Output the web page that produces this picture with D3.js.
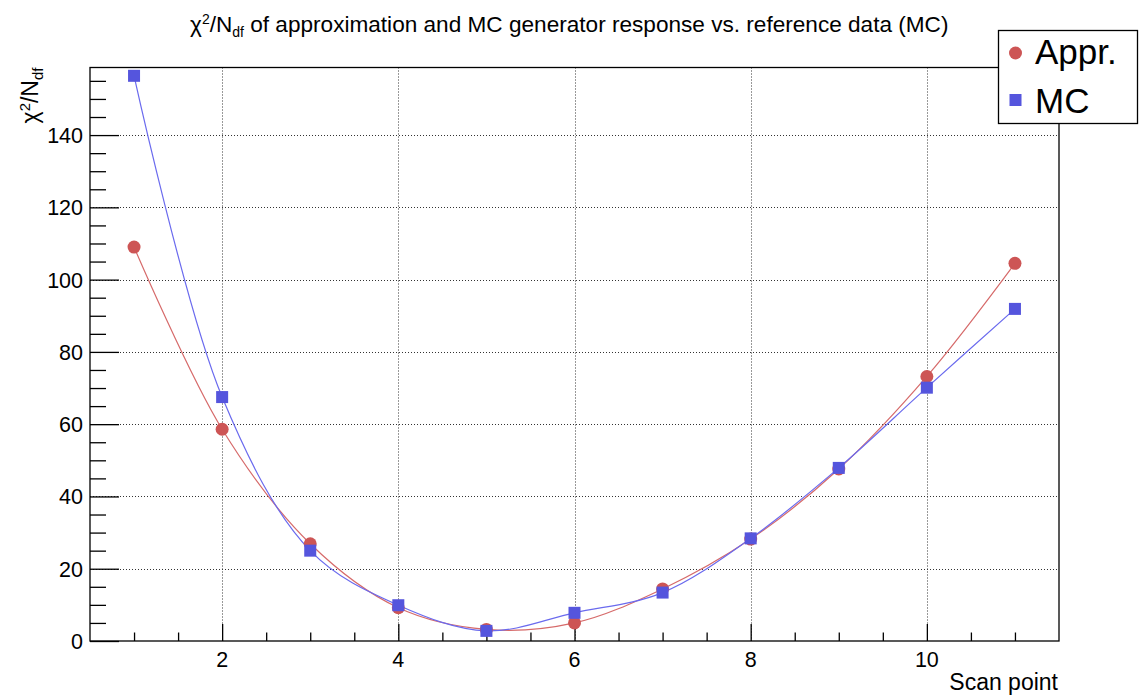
<!DOCTYPE html>
<html>
<head>
<meta charset="utf-8">
<script src="https://cdn.jsdelivr.net/npm/d3@7"></script>
<style>
  html, body { margin: 0; padding: 0; background: #fff; }
  svg { display: block; font-family: "Liberation Sans", Arial, Helvetica, sans-serif; }
</style>
</head>
<body>
<svg id="chart" width="1139" height="698"></svg>
<script>
// ---- data ----
const scanPoints = [1, 2, 3, 4, 5, 6, 7, 8, 9, 10, 11];
const apprValues = [109.0, 58.6, 26.9, 9.2, 3.2, 5.0, 14.4, 28.2, 47.6, 73.2, 104.5];
const mcValues   = [156.4, 67.5, 25.0, 9.9, 2.8, 7.8, 13.4, 28.4, 47.9, 70.1, 91.9];
const xMajorTicks = [2, 4, 6, 8, 10];
const yMajorTicks = [0, 20, 40, 60, 80, 100, 120, 140];
const seriesNames = ["Appr.", "MC"];

(function () {
const apprColor = "#cd5555", apprLine = "#d66a6a";
const mcColor = "#5555dd", mcLine = "#6a6aee";

const svg = d3.select("#chart");
const pLeft = 90, pRight = 1059, pTop = 67.5, pBottom = 641;

const x = d3.scaleLinear().domain([0.5, 11.5]).range([pLeft, pRight]);
const y = d3.scaleLinear().domain([0, 158.7]).range([pBottom, pTop]);

const xMinor = d3.range(1, 11.01, 0.5).filter(v => !xMajorTicks.includes(v));
const yMinor = d3.range(0, 158, 5).filter(v => !yMajorTicks.includes(v));

// grid
const grid = svg.append("g").attr("stroke", "#333").attr("stroke-width", 1).attr("stroke-dasharray", "1,2");
grid.selectAll("line.gx").data(xMajorTicks).join("line")
  .attr("x1", d => Math.round(x(d)) + 0.5).attr("x2", d => Math.round(x(d)) + 0.5)
  .attr("y1", pTop).attr("y2", pBottom);
grid.selectAll("line.gy").data(yMajorTicks.filter(v => v > 0)).join("line")
  .attr("y1", d => Math.round(y(d)) + 0.5).attr("y2", d => Math.round(y(d)) + 0.5)
  .attr("x1", pLeft).attr("x2", pRight);

// axes using d3 axis generators (ticks drawn inward)
const xAxisMajor = d3.axisTop(x).tickValues(xMajorTicks).tickSize(17).tickFormat("");
const xAxisMinor = d3.axisTop(x).tickValues(xMinor).tickSize(8.5).tickFormat("");
const yAxisMajor = d3.axisRight(y).tickValues(yMajorTicks).tickSize(29).tickFormat("");
const yAxisMinor = d3.axisRight(y).tickValues(yMinor).tickSize(16).tickFormat("");

function styleAxis(g) {
  g.select(".domain").remove();
  g.selectAll("line").attr("stroke", "#000").attr("stroke-width", 1.3);
}
svg.append("g").attr("transform", `translate(0,${pBottom})`).call(xAxisMajor).call(styleAxis);
svg.append("g").attr("transform", `translate(0,${pBottom})`).call(xAxisMinor).call(styleAxis);
svg.append("g").attr("transform", `translate(${pLeft},0)`).call(yAxisMajor).call(styleAxis);
svg.append("g").attr("transform", `translate(${pLeft},0)`).call(yAxisMinor).call(styleAxis);

// frame
svg.append("rect").attr("x", pLeft).attr("y", pTop).attr("width", pRight - pLeft).attr("height", pBottom - pTop)
  .attr("fill", "none").attr("stroke", "#000").attr("stroke-width", 1.3);

// tick labels
svg.append("g").selectAll("text").data(xMajorTicks).join("text")
  .attr("x", d => x(d)).attr("y", 667).attr("text-anchor", "middle")
  .attr("font-size", 21.5).attr("fill", "#000").text(d => d);
svg.append("g").selectAll("text").data(yMajorTicks).join("text")
  .attr("x", 83).attr("y", d => y(d) + 8).attr("text-anchor", "end")
  .attr("font-size", 21.5).attr("fill", "#000").text(d => d);

// axis titles
svg.append("text").attr("x", 1058).attr("y", 690).attr("text-anchor", "end")
  .attr("font-size", 23).attr("fill", "#000").text("Scan point");

const yt = svg.append("text").attr("transform", `translate(38,${pTop}) rotate(-90)`)
  .attr("text-anchor", "end").attr("font-size", 23).attr("fill", "#000");
yt.append("tspan").text("χ");
yt.append("tspan").attr("font-size", 15).attr("dy", -8).text("2");
yt.append("tspan").attr("dy", 8).text("/N");
yt.append("tspan").attr("font-size", 15).attr("dy", 5).text("df");

// title
const tt = svg.append("text").attr("x", 190).attr("y", 32)
  .attr("font-size", 22.6).attr("fill", "#000");
tt.append("tspan").text("χ");
tt.append("tspan").attr("font-size", 14).attr("dy", -8).text("2");
tt.append("tspan").attr("dy", 8).text("/N");
tt.append("tspan").attr("font-size", 14).attr("dy", 5).text("df");
tt.append("tspan").attr("dy", -5).text(" of approximation and MC generator response vs. reference data (MC)");

// curves
const line = d3.line().x(d => x(d[0])).y(d => y(d[1])).curve(d3.curveCatmullRom.alpha(0.5));
const apprData = scanPoints.map((s, i) => [s, apprValues[i]]);
const mcData = scanPoints.map((s, i) => [s, mcValues[i]]);

svg.append("path").attr("d", line(apprData)).attr("fill", "none").attr("stroke", apprLine).attr("stroke-width", 1.2);
svg.append("path").attr("d", line(mcData)).attr("fill", "none").attr("stroke", mcLine).attr("stroke-width", 1.2);

// markers
svg.append("g").selectAll("circle").data(apprData).join("circle")
  .attr("cx", d => x(d[0])).attr("cy", d => y(d[1])).attr("r", 6.5).attr("fill", apprColor);
svg.append("g").selectAll("rect").data(mcData).join("rect")
  .attr("x", d => x(d[0]) - 6).attr("y", d => y(d[1]) - 6).attr("width", 12).attr("height", 12).attr("fill", mcColor);

// legend
const lg = svg.append("g");
lg.append("rect").attr("x", 998.5).attr("y", 30.5).attr("width", 139).attr("height", 93)
  .attr("fill", "#fff").attr("stroke", "#000").attr("stroke-width", 1.3);
lg.append("circle").attr("cx", 1015.5).attr("cy", 53).attr("r", 6.5).attr("fill", apprColor);
lg.append("rect").attr("x", 1009.5).attr("y", 94).attr("width", 12).attr("height", 12).attr("fill", mcColor);
lg.append("text").attr("x", 1035).attr("y", 64).attr("font-size", 35).attr("fill", "#000").text(seriesNames[0]);
lg.append("text").attr("x", 1035).attr("y", 113).attr("font-size", 35).attr("fill", "#000").text(seriesNames[1]);
})();
</script>
</body>
</html>
